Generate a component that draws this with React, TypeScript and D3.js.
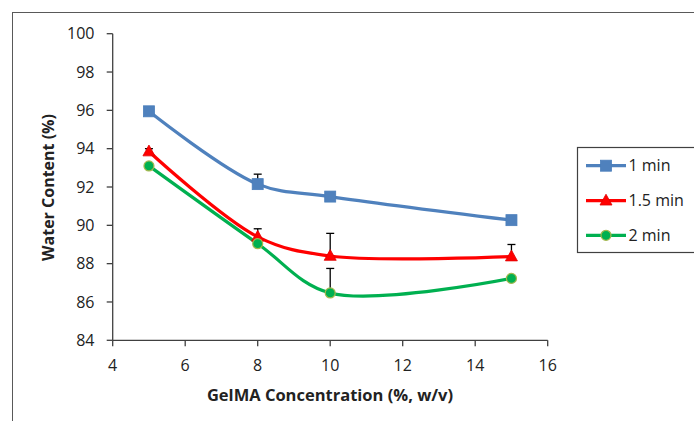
import React from "react";
import * as d3 from "d3";

const concentrations = [5, 8, 10, 15];
const series1min = [95.95, 92.15, 91.5, 90.27];
const series15min = [93.85, 89.4, 88.4, 88.37];
const series2min = [93.1, 89.04, 86.47, 87.23];
const err1min = [0, 0.52, 0, 0];
const err15min = [0.15, 0.42, 1.18, 0.63];
const err2min = [0, 0, 1.28, 0];
const xTicks = [4, 6, 8, 10, 12, 14, 16];
const yTicks = [84, 86, 88, 90, 92, 94, 96, 98, 100];
const seriesNames = ["1 min", "1.5 min", "2 min"];

const W = 694;
const H = 421;
const FONT = "'Open Sans', 'Liberation Sans', sans-serif";

export default function App() {
  const x = d3.scaleLinear().domain([4, 16]).range([112.7, 547.7]);
  const y = d3.scaleLinear().domain([84, 100]).range([340.3, 33.7]);

  const series = [
    { name: seriesNames[0], values: series1min, err: err1min, color: "#4F81BD", stroke: "#4A7EBB", marker: "square" },
    { name: seriesNames[1], values: series15min, err: err15min, color: "#FF0000", stroke: "#E00000", marker: "triangle" },
    { name: seriesNames[2], values: series2min, err: err2min, color: "#00B050", stroke: "#A3B84E", marker: "circle" },
  ];

  const line = d3
    .line<[number, number]>()
    .x((d) => x(d[0]))
    .y((d) => y(d[1]))
    .curve(d3.curveCatmullRom.alpha(0.5));

  const marker = (type: string, cx: number, cy: number, fill: string, stroke: string, key: string) => {
    if (type === "square")
      return <rect key={key} x={cx - 5.5} y={cy - 5.5} width={11} height={11} fill={fill} stroke={stroke} strokeWidth={0.8} />;
    if (type === "triangle") {
      const s = 12;
      const h = s * 0.9;
      const p = `${cx},${cy - h * 0.6} ${cx + s / 2},${cy + h * 0.4} ${cx - s / 2},${cy + h * 0.4}`;
      return <polygon key={key} points={p} fill={fill} stroke={stroke} strokeWidth={0.8} />;
    }
    return <circle key={key} cx={cx} cy={cy} r={5} fill={fill} stroke={stroke} strokeWidth={1.2} />;
  };

  const legendX = 577.5;
  const legendY = 147.5;
  const rowY = [165.7, 200.7, 235.3];

  return (
    <svg width={W} height={H} style={{ position: "absolute", left: 0, top: 0, background: "#fff" }} fontFamily={FONT}>
      <rect x={0} y={0} width={W} height={H} fill="#fff" />
      {/* outer frame */}
      <rect x={12.5} y={12.5} width={W + 20} height={H + 20} fill="none" stroke="#595959" strokeWidth={1} />

      {/* axes */}
      <line x1={x(4)} x2={x(16)} y1={y(84)} y2={y(84)} stroke="#404040" strokeWidth={1.3} />
      <line x1={x(4)} x2={x(4)} y1={y(84)} y2={y(100)} stroke="#404040" strokeWidth={1.3} />
      {yTicks.map((t) => (
        <g key={"y" + t}>
          <line x1={x(4) - 6} x2={x(4)} y1={y(t)} y2={y(t)} stroke="#404040" strokeWidth={1.3} />
          <text x={94.5} y={y(t)} dy="0.35em" textAnchor="end" fontSize={16} fill="#222">
            {t}
          </text>
        </g>
      ))}
      {xTicks.map((t) => (
        <g key={"x" + t}>
          <line x1={x(t)} x2={x(t)} y1={y(84)} y2={y(84) + 6} stroke="#404040" strokeWidth={1.3} />
          <text x={x(t)} y={371} textAnchor="middle" fontSize={16} fill="#222">
            {t}
          </text>
        </g>
      ))}
      <text x={330} y={401} textAnchor="middle" fontSize={16.5} fontWeight="bold" fill="#222">
        GelMA Concentration (%, w/v)
      </text>
      <text
        transform={`translate(54,187.5) rotate(-90)`}
        textAnchor="middle"
        fontSize={16}
        fontWeight="bold"
        fill="#222"
      >
        Water Content (%)
      </text>

      {/* lines */}
      {series.map((s) => (
        <path
          key={"l" + s.name}
          d={line(concentrations.map((c, i) => [c, s.values[i]] as [number, number])) || ""}
          fill="none"
          stroke={s.color}
          strokeWidth={3.2}
        />
      ))}

      {/* error bars (positive only) */}
      {series.map((s) =>
        concentrations.map((c, i) =>
          s.err[i] > 0 ? (
            <g key={"e" + s.name + i} stroke="#000" strokeWidth={1.3}>
              <line x1={x(c)} x2={x(c)} y1={y(s.values[i])} y2={y(s.values[i] + s.err[i])} />
              <line x1={x(c) - 4} x2={x(c) + 4} y1={y(s.values[i] + s.err[i])} y2={y(s.values[i] + s.err[i])} />
            </g>
          ) : null
        )
      )}

      {/* markers */}
      {series.map((s) =>
        concentrations.map((c, i) => marker(s.marker, x(c), y(s.values[i]), s.color, s.stroke, "m" + s.name + i))
      )}

      {/* legend */}
      <rect x={legendX} y={legendY} width={W} height={105} fill="#fff" stroke="#404040" strokeWidth={1.2} />
      {series.map((s, i) => (
        <g key={"lg" + s.name}>
          <line x1={586} x2={626} y1={rowY[i]} y2={rowY[i]} stroke={s.color} strokeWidth={3.2} />
          {marker(s.marker, 606, rowY[i], s.color, s.stroke, "lm" + i)}
          <text x={628.5} y={rowY[i]} dy="0.35em" fontSize={16} fill="#222">
            {s.name}
          </text>
        </g>
      ))}
    </svg>
  );
}
